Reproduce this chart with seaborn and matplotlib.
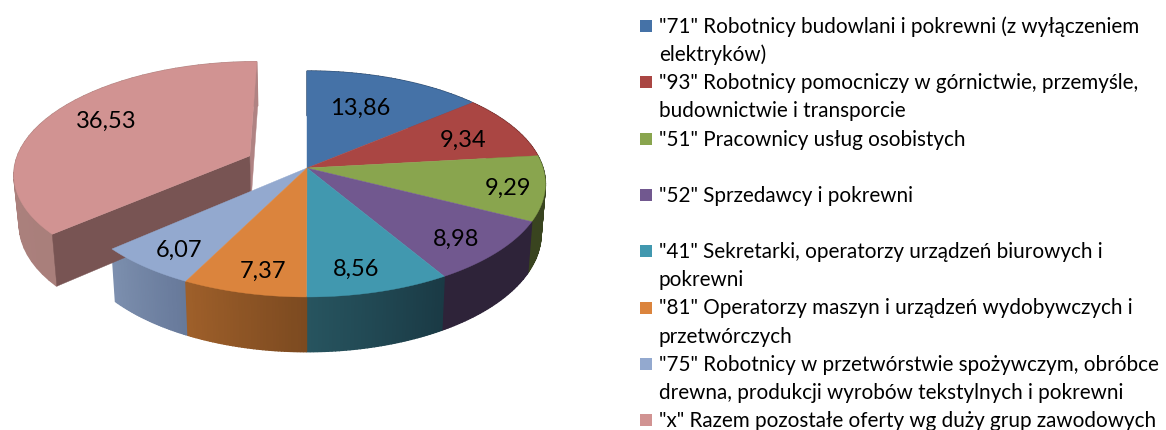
import numpy as np
import matplotlib
matplotlib.use('Agg')
from matplotlib import pyplot as plt
import seaborn as sns

values = [13.86, 9.34, 9.29, 8.98, 8.56, 7.37, 6.07, 36.53]
labels = [
    '"71" Robotnicy budowlani i pokrewni (z wyłączeniem\nelektryków)',
    '"93" Robotnicy pomocniczy w górnictwie, przemyśle,\nbudownictwie i transporcie',
    '"51" Pracownicy usług osobistych',
    '"52" Sprzedawcy i pokrewni',
    '"41" Sekretarki, operatorzy urządzeń biurowych i\npokrewni',
    '"81" Operatorzy maszyn i urządzeń wydobywczych i\nprzetwórczych',
    '"75" Robotnicy w przetwórstwie spożywczym, obróbce\ndrewna, produkcji wyrobów tekstylnych i pokrewni',
    '"x" Razem pozostałe oferty wg duży grup zawodowych',
]
top_colors = ['#4572a7', '#aa4643', '#89a54e', '#71588f', '#4198af', '#db843d', '#93a9cf', '#d19392']
wall_left = ['#2a4566', '#682a28', '#39441f', '#2e2339', '#27545f', '#9e5f2a', '#7c8fae', '#b08582']
wall_right = ['#2a4566', '#682a28', '#39441f', '#2e2339', '#1a3a45', '#7c4a20', '#67799a', '#a97f7b']
explode = [0, 0, 0, 0, 0, 0, 0, 0.27]
label_r = [0.62, 0.77, 0.85, 0.80, 0.78, 0.82, 0.82, 0.72]
label_dx = [-4, -4, -1, 0, -5, 6, 2, 1]
label_dy = [-2, 5, 3, 6, 8, 4, 3, -4]

# projection of the tilted disc, in pixels
CX, CY = 307, 168
A, B, K = 236, 110.7, 0.1416
DEPTH, SHRINK = 49, 0.982

sns.set_theme(style="white")
plt.rcParams['font.family'] = ['Lato', 'DejaVu Sans']


def project(u, v, low=False):
    den = 1 + K * v
    x = A * u / den
    y = B * v / den
    if low:
        return CX + x * SHRINK, CY - y * SHRINK + DEPTH / den
    return CX + x, CY - y


def disc(theta, r, off):
    return r * np.sin(theta) + off[0], r * np.cos(theta) + off[1]


fig = plt.figure(figsize=(11.66, 4.30), dpi=100)
ax = fig.add_axes([0, 0, 1, 1])
ax.set_xlim(0, 1166)
ax.set_ylim(430, 0)
ax.axis('off')

edges = 2 * np.pi * np.concatenate([[0], np.cumsum(values)]) / np.sum(values)
order = [7, 0, 1, 2, 3, 6, 4, 5]  # back to front

for i in order:
    a0, a1 = edges[i], edges[i + 1]
    mid = (a0 + a1) / 2
    off = (explode[i] * np.sin(mid), explode[i] * np.cos(mid))
    th = np.linspace(a0, a1, 41)
    shades = sns.blend_palette([wall_right[i], wall_left[i]], len(th) - 1)
    for k in range(len(th) - 1):
        u, v = disc(th[k:k + 2], 1, off)
        xt, yt = project(u, v)
        xl, yl = project(u, v, low=True)
        ax.fill(np.r_[xt, xl[::-1]], np.r_[yt, yl[::-1]], fc=shades[k], ec=shades[k], lw=1.0, zorder=1)
    # flat cut faces only show on the pulled out slice
    if explode[i] > 0:
        for a, col in ((a1, '#b08383'), (a0, '#785453')):
            xa, ya = project(*disc(a, 1, off))
            xb, yb = project(*disc(a, 0, off))
            xc, yc = project(*disc(a, 0, off), low=True)
            xd, yd = project(*disc(a, 1, off), low=True)
            ax.fill([xa, xb, xc, xd], [ya, yb, yc, yd], color=col, lw=0.3, zorder=2)

for i in order:
    a0, a1 = edges[i], edges[i + 1]
    mid = (a0 + a1) / 2
    off = (explode[i] * np.sin(mid), explode[i] * np.cos(mid))
    th = np.linspace(a0, a1, 121)
    u, v = disc(th, 1, off)
    x, y = project(np.r_[off[0], u], np.r_[off[1], v])
    ax.fill(x, y, color=top_colors[i], lw=0.3, zorder=3)
    tx, ty = project(*disc(mid, label_r[i], off))
    ax.text(tx + label_dx[i], ty + label_dy[i], f"{values[i]:.2f}".replace('.', ','), ha='center', va='center',
            fontsize=17, color='black', zorder=5)

# legend
row = 0
for i, lab in enumerate(labels):
    base = 33 + 28.15 * row
    ax.scatter([646], [base - 7], marker='s', s=87, color=top_colors[i], linewidths=0, zorder=4)
    for j, line in enumerate(lab.split('\n')):
        ax.text(659, base + 28.15 * j, line, fontsize=14.9, color='black', va='baseline', ha='left')
    row += 2

fig.savefig('out.png', dpi=100)
